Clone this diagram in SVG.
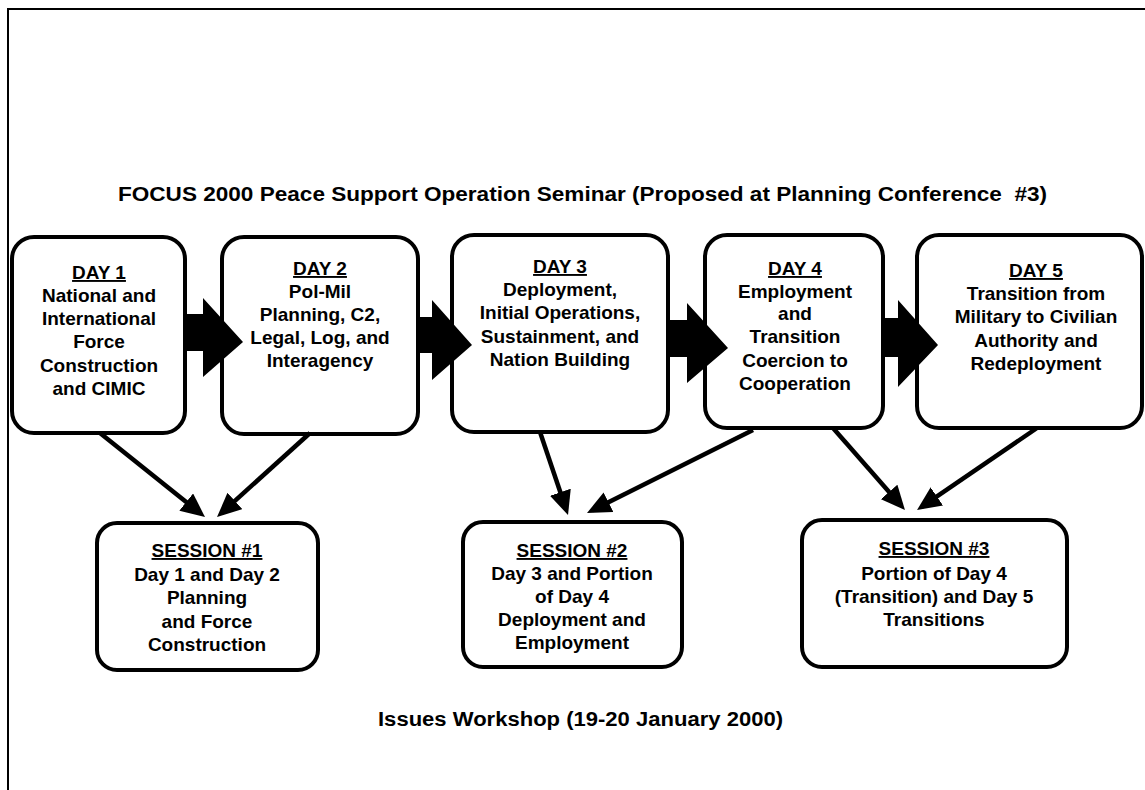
<svg xmlns="http://www.w3.org/2000/svg" width="1145" height="790" viewBox="0 0 1145 790">
<style>
  .frame { fill: none; stroke: #000; stroke-width: 2; }
  .box { fill: #fff; stroke: #000; stroke-width: 4; }
  .txt { font-family: "Liberation Sans", Arial, sans-serif; font-weight: bold; font-size: 19px; fill: #000; text-anchor: middle; }
  .hdr { text-decoration: underline; }
  .title { font-family: "Liberation Sans", Arial, sans-serif; font-weight: bold; font-size: 20px; fill: #000; text-anchor: middle; }
  .conn { fill: none; stroke: #000; stroke-width: 4.5; }
  .block { fill: #000; stroke: none; }
</style>
<defs>
  <marker id="head" viewBox="0 0 24 22" markerWidth="24" markerHeight="22" markerUnits="userSpaceOnUse" refX="18" refY="11" orient="auto">
    <path d="M0,0 L24,11 L0,22 z" fill="#000"/>
  </marker>
</defs>
<rect x="0" y="0" width="1145" height="790" fill="#fff"/>
<path class="frame" d="M8,790 L8,9 L1145,9"/>

<text class="title" x="582.5" y="201" textLength="929" lengthAdjust="spacingAndGlyphs" xml:space="preserve">FOCUS 2000 Peace Support Operation Seminar (Proposed at Planning Conference  #3)</text>

<g id="day1">
  <rect class="box" x="12" y="237" width="173" height="196" rx="22"/>
  <text class="txt hdr" x="99" y="279">DAY 1</text>
  <text class="txt" x="99" y="302">National and</text>
  <text class="txt" x="99" y="325">International</text>
  <text class="txt" x="99" y="348">Force</text>
  <text class="txt" x="99" y="372">Construction</text>
  <text class="txt" x="99" y="395">and CIMIC</text>
</g>
<g id="day2">
  <rect class="box" x="222" y="237" width="196" height="197" rx="22"/>
  <text class="txt hdr" x="320" y="275">DAY 2</text>
  <text class="txt" x="320" y="298">Pol-Mil</text>
  <text class="txt" x="320" y="321">Planning, C2,</text>
  <text class="txt" x="320" y="344">Legal, Log, and</text>
  <text class="txt" x="320" y="367">Interagency</text>
</g>
<g id="day3">
  <rect class="box" x="452" y="235" width="216" height="197" rx="22"/>
  <text class="txt hdr" x="560" y="273">DAY 3</text>
  <text class="txt" x="560" y="296">Deployment,</text>
  <text class="txt" x="560" y="319">Initial Operations,</text>
  <text class="txt" x="560" y="343">Sustainment, and</text>
  <text class="txt" x="560" y="366">Nation Building</text>
</g>
<g id="day4">
  <rect class="box" x="705" y="235" width="178" height="193" rx="22"/>
  <text class="txt hdr" x="795" y="275">DAY 4</text>
  <text class="txt" x="795" y="298">Employment</text>
  <text class="txt" x="795" y="320">and</text>
  <text class="txt" x="795" y="343">Transition</text>
  <text class="txt" x="795" y="367">Coercion to</text>
  <text class="txt" x="795" y="390">Cooperation</text>
</g>
<g id="day5">
  <rect class="box" x="917" y="235" width="225" height="193" rx="22"/>
  <text class="txt hdr" x="1036" y="277">DAY 5</text>
  <text class="txt" x="1036" y="300">Transition from</text>
  <text class="txt" x="1036" y="323">Military to Civilian</text>
  <text class="txt" x="1036" y="347">Authority and</text>
  <text class="txt" x="1036" y="370">Redeployment</text>
</g>

<g id="flow-arrows">
  <polygon class="block" points="185,314 203,314 203,298 243,342 203,377 203,351 185,351"/>
  <polygon class="block" points="418,317 432,317 432,300 472,345 432,380 432,353 418,353"/>
  <polygon class="block" points="668,320 687,320 687,303 728,348 687,383 687,357 668,357"/>
  <polygon class="block" points="883,318 898,318 898,300 938,345 898,387 898,357 883,357"/>
</g>

<g id="connectors">
  <line class="conn" x1="100" y1="433" x2="200.3" y2="513.3" marker-end="url(#head)"/>
  <line class="conn" x1="310" y1="433" x2="221.5" y2="513" marker-end="url(#head)"/>
  <line class="conn" x1="540" y1="432" x2="566.1" y2="509.3" marker-end="url(#head)"/>
  <line class="conn" x1="753" y1="430" x2="592.4" y2="510.3" marker-end="url(#head)"/>
  <line class="conn" x1="833" y1="428" x2="901" y2="505.5" marker-end="url(#head)"/>
  <line class="conn" x1="1037" y1="428" x2="922" y2="506.6" marker-end="url(#head)"/>
</g>

<g id="session1">
  <rect class="box" x="97" y="523" width="221" height="147" rx="20"/>
  <text class="txt hdr" x="207" y="557">SESSION #1</text>
  <text class="txt" x="207" y="581">Day 1 and Day 2</text>
  <text class="txt" x="207" y="604">Planning</text>
  <text class="txt" x="207" y="628">and Force</text>
  <text class="txt" x="207" y="651">Construction</text>
</g>
<g id="session2">
  <rect class="box" x="463" y="522" width="219" height="145" rx="20"/>
  <text class="txt hdr" x="572" y="557">SESSION #2</text>
  <text class="txt" x="572" y="580">Day 3 and Portion</text>
  <text class="txt" x="572" y="603">of Day 4</text>
  <text class="txt" x="572" y="626">Deployment and</text>
  <text class="txt" x="572" y="649">Employment</text>
</g>
<g id="session3">
  <rect class="box" x="802" y="520" width="265" height="147" rx="20"/>
  <text class="txt hdr" x="934" y="555">SESSION #3</text>
  <text class="txt" x="934" y="580">Portion of Day 4</text>
  <text class="txt" x="934" y="603">(Transition) and Day 5</text>
  <text class="txt" x="934" y="626">Transitions</text>
</g>

<text class="title" x="580.5" y="726" font-size="21" textLength="405" lengthAdjust="spacingAndGlyphs">Issues Workshop (19-20 January 2000)</text>
</svg>
